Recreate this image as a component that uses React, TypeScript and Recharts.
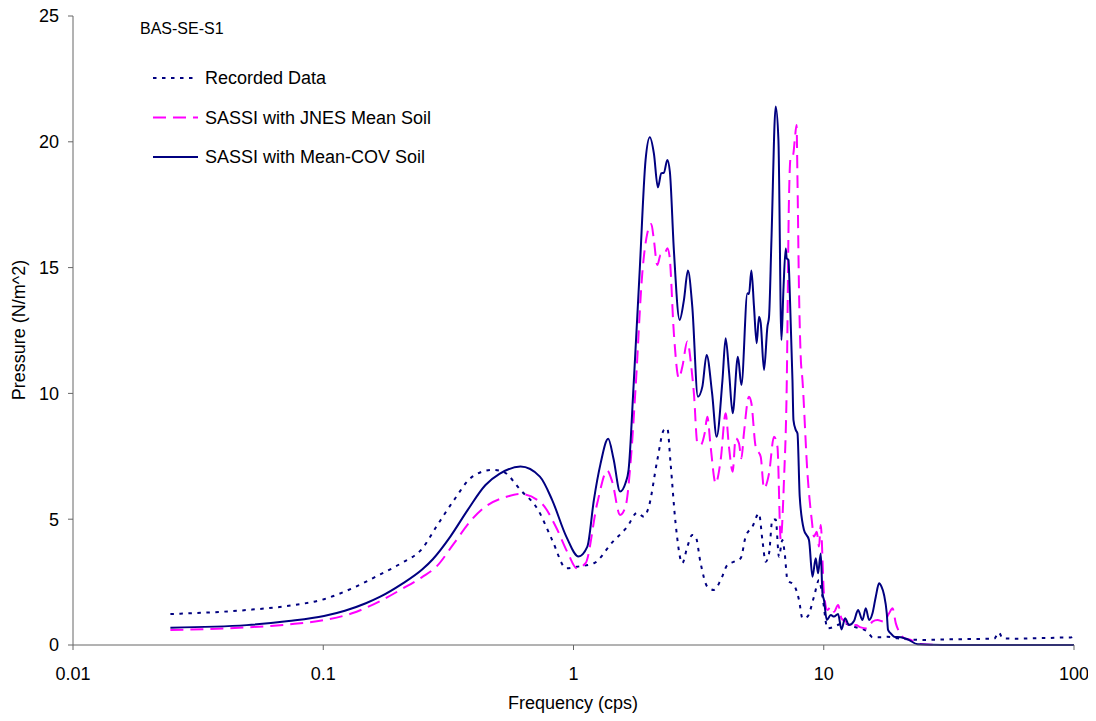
import React from 'react';
import { LineChart, Line, XAxis, YAxis, Legend } from 'recharts';

const FONT = '"Liberation Sans", Arial, sans-serif';

const recordedFreq = [0.0245, 0.0494, 0.0728, 0.1007, 0.1303, 0.169, 0.205, 0.249, 0.283, 0.333, 0.391, 0.474, 0.523, 0.614, 0.722, 0.822, 0.936, 1.031, 1.206, 1.428, 1.64, 1.798, 1.91, 2.0, 2.162, 2.297, 2.371, 2.443, 2.558, 2.722, 2.851, 2.983, 3.076, 3.221, 3.426, 3.641, 3.873, 4.12, 4.377, 4.656, 4.875, 5.186, 5.509, 5.686, 5.861, 6.045, 6.232, 6.427, 6.624, 6.833, 6.982, 7.16, 7.605, 7.963, 8.222, 8.608, 9.141, 9.573, 9.885, 10.35, 12.05, 13.21, 14.95, 15.66, 16.9, 17.97, 19.71, 25, 30, 40, 48, 50, 52, 60, 70, 80, 90, 97, 100];
const recordedVal = [1.23, 1.39, 1.56, 1.82, 2.25, 2.81, 3.25, 3.84, 4.7, 5.76, 6.66, 6.96, 6.89, 6.16, 5.37, 4.17, 3.05, 3.11, 3.25, 4.08, 4.7, 5.26, 5.1, 5.5, 7.35, 8.55, 8.61, 7.22, 4.84, 3.25, 3.91, 4.37, 4.31, 3.25, 2.32, 2.19, 2.58, 3.18, 3.31, 3.45, 4.31, 4.7, 5.23, 4.17, 3.31, 3.64, 4.97, 4.99, 3.51, 4.17, 3.64, 2.58, 2.38, 1.79, 1.06, 1.13, 1.92, 2.58, 1.92, 0.66, 0.86, 0.73, 0.53, 0.31, 0.31, 0.33, 0.27, 0.2, 0.22, 0.24, 0.25, 0.5, 0.26, 0.25, 0.27, 0.28, 0.3, 0.3, 0.35];

const jnesFreq = [0.0245, 0.0494, 0.0728, 0.1007, 0.1303, 0.169, 0.205, 0.249, 0.283, 0.333, 0.391, 0.445, 0.54, 0.614, 0.746, 0.85, 0.951, 1.031, 1.117, 1.244, 1.364, 1.428, 1.535, 1.614, 1.69, 1.77, 1.883, 1.972, 2.046, 2.095, 2.162, 2.228, 2.312, 2.371, 2.421, 2.518, 2.637, 2.722, 2.851, 2.956, 3.028, 3.126, 3.221, 3.342, 3.426, 3.532, 3.698, 3.873, 4.055, 4.18, 4.325, 4.446, 4.583, 4.687, 4.797, 5.026, 5.139, 5.346, 5.598, 5.771, 6.045, 6.327, 6.53, 6.73, 6.936, 7.112, 7.26, 7.379, 7.537, 7.66, 7.784, 7.853, 7.963, 8.09, 8.222, 8.608, 8.954, 9.141, 9.376, 9.573, 9.727, 10.02, 10.35, 10.67, 10.99, 11.41, 11.77, 12.25, 12.82, 13.43, 14.06, 14.95, 15.66, 16.39, 17.42, 18.24, 18.83, 19.41, 20.0, 20.95, 22.28, 23.71, 30, 100];
const jnesVal = [0.6, 0.7, 0.82, 0.99, 1.26, 1.75, 2.21, 2.71, 3.11, 4.04, 4.97, 5.5, 5.89, 6.0, 5.63, 4.7, 3.64, 3.05, 3.25, 5.63, 6.93, 6.49, 5.17, 5.5, 7.22, 10.2, 14.77, 16.36, 16.73, 16.1, 15.1, 15.5, 15.54, 15.77, 15.43, 12.39, 10.6, 11.06, 12.06, 11.06, 10.0, 8.02, 7.95, 8.41, 9.07, 7.88, 6.43, 7.35, 9.21, 7.88, 6.89, 8.22, 8.02, 7.42, 8.41, 9.87, 9.61, 7.88, 7.48, 6.23, 6.82, 8.28, 7.88, 4.2, 6.56, 10.27, 17.69, 19.41, 19.47, 20.07, 20.67, 18.48, 14.11, 11.46, 10.53, 6.82, 4.97, 4.31, 4.5, 3.91, 4.77, 2.05, 1.39, 1.52, 1.32, 1.59, 1.06, 0.93, 0.7, 0.79, 0.7, 0.66, 0.93, 0.99, 0.93, 1.26, 1.46, 0.86, 0.53, 0.27, 0.2, 0.05, 0, 0];

const covFreq = [0.0245, 0.0494, 0.0728, 0.1007, 0.122, 0.148, 0.169, 0.205, 0.249, 0.274, 0.322, 0.378, 0.445, 0.506, 0.614, 0.734, 0.822, 0.936, 1.047, 1.136, 1.206, 1.282, 1.376, 1.445, 1.535, 1.614, 1.66, 1.738, 1.837, 1.941, 2.019, 2.095, 2.174, 2.243, 2.297, 2.371, 2.427, 2.518, 2.655, 2.762, 2.866, 2.983, 3.141, 3.273, 3.404, 3.58, 3.733, 3.936, 4.055, 4.188, 4.325, 4.539, 4.687, 4.953, 5.026, 5.139, 5.263, 5.395, 5.509, 5.598, 5.771, 5.956, 6.045, 6.18, 6.427, 6.59, 6.775, 6.9, 7.047, 7.112, 7.226, 7.31, 7.499, 7.568, 7.727, 7.853, 8.017, 8.337, 8.73, 9.015, 9.288, 9.487, 9.727, 9.885, 10.02, 10.28, 10.67, 10.99, 11.41, 11.77, 12.17, 12.62, 13.21, 13.71, 14.28, 14.72, 15.18, 15.66, 16.14, 16.64, 17.01, 17.42, 17.86, 18.07, 18.53, 19.1, 20.32, 21.62, 23.71, 30, 50, 100];
const covVal = [0.69, 0.79, 0.95, 1.15, 1.36, 1.66, 1.92, 2.41, 3.01, 3.41, 4.31, 5.37, 6.36, 6.8, 7.09, 6.69, 5.76, 4.31, 3.52, 3.91, 5.76, 7.2, 8.2, 7.4, 6.1, 6.44, 6.96, 10.3, 14.8, 19.28, 20.18, 19.54, 18.19, 18.75, 18.77, 19.28, 18.81, 15.7, 12.92, 13.71, 14.88, 13.45, 9.87, 10.27, 11.53, 10.0, 8.28, 10.5, 12.19, 10.8, 9.21, 11.46, 10.33, 13.98, 13.95, 14.88, 13.45, 11.99, 13.05, 12.8, 10.93, 12.65, 13.05, 16.1, 21.4, 20.07, 12.12, 14.11, 15.76, 15.37, 15.3, 14.11, 10.53, 8.94, 8.55, 8.41, 5.89, 4.57, 4.17, 2.71, 3.45, 2.85, 3.64, 2.05, 1.79, 0.99, 1.19, 1.13, 1.23, 0.62, 1.06, 0.79, 0.95, 1.39, 0.99, 1.46, 0.99, 1.26, 1.92, 2.45, 2.32, 1.99, 1.26, 0.6, 0.46, 0.33, 0.31, 0.23, 0.03, 0, 0, 0];

const xTicks = [0.01, 0.1, 1, 10, 100];
const yTicks = [0, 5, 10, 15, 20, 25];
const seriesNames = ['Recorded Data', 'SASSI with JNES Mean Soil', 'SASSI with Mean-COV Soil'];
const chartTitle = 'BAS-SE-S1';
const xTitle = 'Frequency (cps)';
const yTitle = 'Pressure (N/m^2)';

const toPoints = (f: number[], v: number[]) => f.map((x, i) => ({ f: x, v: v[i] }));

const series = [
  { name: seriesNames[0], data: toPoints(recordedFreq, recordedVal), color: '#000080', dash: '3.5 5.5' },
  { name: seriesNames[1], data: toPoints(jnesFreq, jnesVal), color: '#FF00FF', dash: '13 7' },
  { name: seriesNames[2], data: toPoints(covFreq, covVal), color: '#000080', dash: undefined as string | undefined },
];

const W = 1088;
const H = 721;

const renderLegend = () => (
  <svg width={400} height={125} style={{ display: 'block' }}>
    {series.map((s, i) => {
      const cy = 23 + i * 39.5;
      return (
        <g key={s.name}>
          <line x1={13} x2={58} y1={cy} y2={cy} stroke={s.color} strokeWidth={2} strokeDasharray={s.dash} />
          <text x={65} y={cy + 6.4} fontSize={18} fontFamily={FONT} fill="#000">{s.name}</text>
        </g>
      );
    })}
  </svg>
);

export default function App() {
  return (
    <div style={{ position: 'relative', width: W, height: H, marginTop: -8, background: '#fff' }}>
      <LineChart width={W} height={H} margin={{ top: 16, right: 22, bottom: 0, left: 0 }}>
        <XAxis
          dataKey="f"
          type="number"
          scale="log"
          domain={[0.01, 100]}
          ticks={xTicks}
          interval={0}
          allowDataOverflow
          height={76}
          stroke="#666"
          tickSize={5}
          tickMargin={17}
          tick={{ fill: '#000', fontSize: 18, fontFamily: FONT }}
          tickFormatter={(v: number) => String(v)}
        />
        <YAxis
          type="number"
          domain={[0, 25]}
          ticks={yTicks}
          interval={0}
          width={65}
          stroke="#666"
          tickSize={5}
          tickMargin={9}
          tick={{ fill: '#000', fontSize: 18, fontFamily: FONT }}
        />
        <Legend
          content={renderLegend}
          layout="vertical"
          align="center"
          verticalAlign="middle"
          wrapperStyle={{ left: 132, top: 55, width: 400, height: 125 }}
        />
        {series.map((s) => (
          <Line
            key={s.name}
            name={s.name}
            data={s.data}
            dataKey="v"
            type="monotone"
            stroke={s.color}
            strokeWidth={2}
            strokeDasharray={s.dash}
            dot={false}
            activeDot={false}
            isAnimationActive={false}
          />
        ))}
      </LineChart>
      <svg width={W} height={H} style={{ position: 'absolute', left: 0, top: 0, pointerEvents: 'none' }}>
        <text x={132} y={34} fontSize={16} fontFamily={FONT} fill="#000">{chartTitle}</text>
        <text x={565} y={703} fontSize={18} fontFamily={FONT} fill="#000" textAnchor="middle" dominantBaseline="central">{xTitle}</text>
        <text
          x={11}
          y={330}
          fontSize={18}
          fontFamily={FONT}
          fill="#000"
          textAnchor="middle"
          dominantBaseline="central"
          transform="rotate(-90 11 330)"
        >
          {yTitle}
        </text>
      </svg>
    </div>
  );
}
